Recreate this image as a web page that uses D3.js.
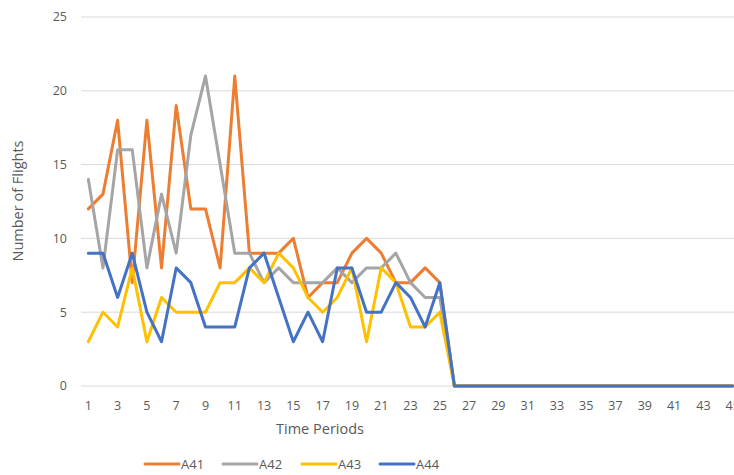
<!DOCTYPE html>
<html><head><meta charset="utf-8">
<script src="https://cdn.jsdelivr.net/npm/d3@7/dist/d3.min.js"></script>
<style>
html,body{margin:0;padding:0;background:#fff;overflow:hidden;}
text{font-family:"Open Sans",sans-serif;fill:#595959;}
</style></head>
<body><svg id="c" width="734" height="475"></svg>
<script>
const periods = d3.range(1, 46).map(String);
const seriesNames = ["A41", "A42", "A43", "A44"];
const colors = ["#ED7D31", "#A5A5A5", "#FFC000", "#4472C4"];
const A41 = [12,13,18,7,18,8,19,12,12,8,21,9,9,9,10,6,7,7,9,10,9,7,7,8,7,0,0,0,0,0,0,0,0,0,0,0,0,0,0,0,0,0,0,0,0];
const A42 = [14,8,16,16,8,13,9,17,21,15,9,9,7,8,7,7,7,8,7,8,8,9,7,6,6,0,0,0,0,0,0,0,0,0,0,0,0,0,0,0,0,0,0,0,0];
const A43 = [3,5,4,8,3,6,5,5,5,7,7,8,7,9,8,6,5,6,8,3,8,7,4,4,5,0,0,0,0,0,0,0,0,0,0,0,0,0,0,0,0,0,0,0,0];
const A44 = [9,9,6,9,5,3,8,7,4,4,4,8,9,6,3,5,3,8,8,5,5,7,6,4,7,0,0,0,0,0,0,0,0,0,0,0,0,0,0,0,0,0,0,0,0];
const yTicks = [0,5,10,15,20,25];
const seriesData = [A41, A42, A43, A44];

(function () {
const svg = d3.select("#c");
const pL = 81, pR = 740, pT = 17, pB = 386;
const x = d3.scaleBand().domain(periods).range([pL, pR]).padding(0);
const y = d3.scaleLinear().domain([0, 25]).range([pB, pT]);

// gridlines
svg.append("g").selectAll("line").data(yTicks).join("line")
  .attr("x1", pL).attr("x2", pR)
  .attr("y1", d => y(d)).attr("y2", d => y(d))
  .attr("stroke", "#d9d9d9").attr("stroke-width", 1);

// y labels
svg.append("g").selectAll("text").data(yTicks).join("text")
  .attr("x", 67).attr("y", d => y(d)).attr("dy", "0.35em")
  .attr("text-anchor", "end").attr("font-size", 12.5).text(d => d);

// x labels
svg.append("g").selectAll("text").data(periods.filter((d, i) => i % 2 === 0)).join("text")
  .attr("x", d => x(d) + x.bandwidth() / 2).attr("y", 406).attr("dy", "0.35em")
  .attr("text-anchor", "middle").attr("font-size", 12.5).text(d => d);

// axis titles
svg.append("text").attr("x", 320).attr("y", 429).attr("dy", "0.35em")
  .attr("text-anchor", "middle").attr("font-size", 14.5).text("Time Periods");
svg.append("text").attr("transform", "translate(18,201) rotate(-90)").attr("dy", "0.35em")
  .attr("text-anchor", "middle").attr("font-size", 14.5).text("Number of Flights");

// lines
const line = d3.line().x((d, i) => x(periods[i]) + x.bandwidth() / 2).y(d => y(d));
svg.append("g").selectAll("path").data(seriesData).join("path")
  .attr("d", d => line(d)).attr("fill", "none")
  .attr("stroke", (d, i) => colors[i]).attr("stroke-width", 3)
  .attr("stroke-linejoin", "round").attr("stroke-linecap", "round");

// legend
const legendX = [145, 223, 302, 380];
const lg = svg.append("g").selectAll("g").data(seriesNames).join("g")
  .attr("transform", (d, i) => `translate(${legendX[i]},464)`);
lg.append("line").attr("x1", 0).attr("x2", 34).attr("y1", 0).attr("y2", 0)
  .attr("stroke", (d, i) => colors[i]).attr("stroke-width", 3).attr("stroke-linecap", "round");
lg.append("text").attr("x", 36).attr("y", 0).attr("dy", "0.35em").attr("font-size", 13).text(d => d);
})();
</script></body></html>
